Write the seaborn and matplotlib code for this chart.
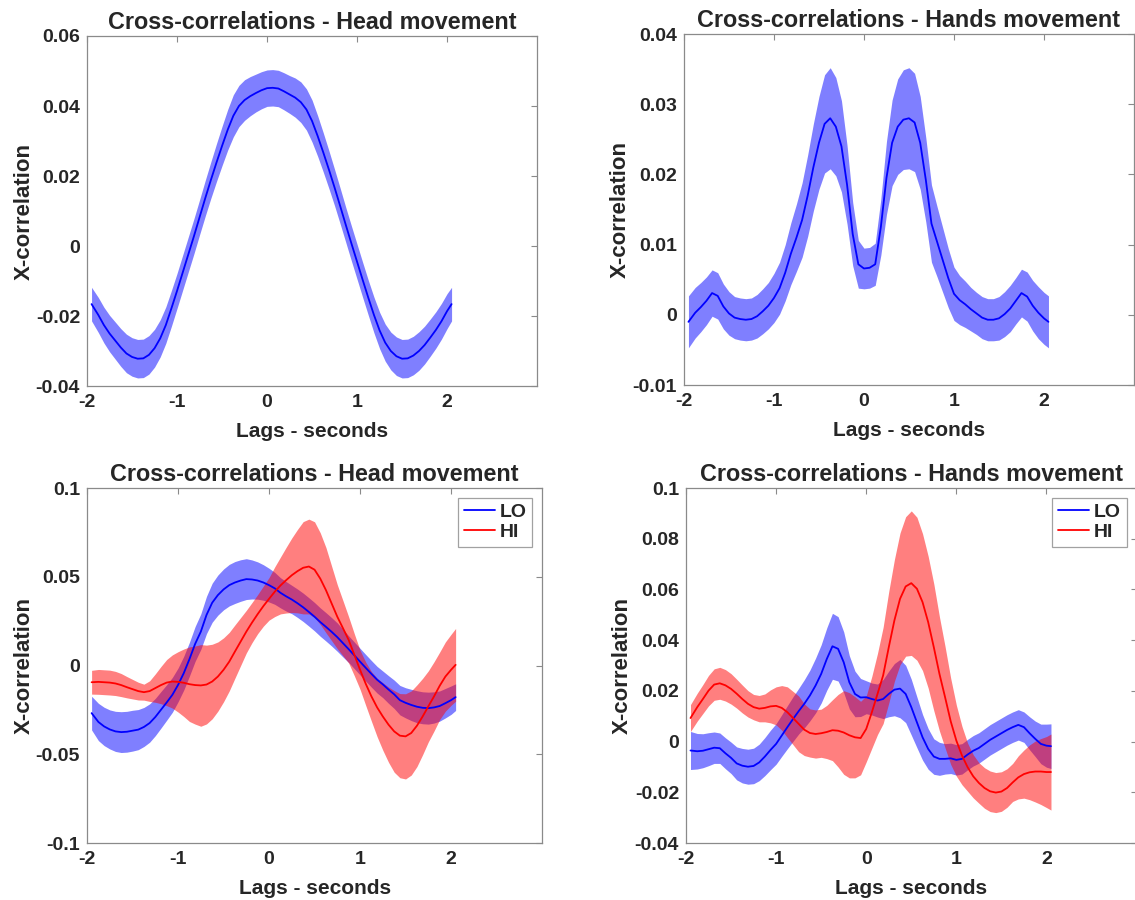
import numpy as np
import pandas as pd
import matplotlib
matplotlib.use("Agg")
import matplotlib.pyplot as plt
import seaborn as sns

# lags in seconds (data run from -1.95 to 2.05)
lags = [-1.95, -1.875, -1.8125, -1.75, -1.6875, -1.625, -1.5625, -1.5, -1.4375, -1.375,
        -1.3125, -1.25, -1.1875, -1.125, -1.0625, -1, -0.9375, -0.875, -0.8125, -0.75, -0.6875,
        -0.625, -0.5625, -0.5, -0.4375, -0.375, -0.3125, -0.25, -0.1875, -0.125, -0.0625, 0,
        0.0625, 0.125, 0.1875, 0.25, 0.3125, 0.375, 0.4375, 0.5, 0.5625, 0.625, 0.6875, 0.75,
        0.8125, 0.875, 0.9375, 1, 1.0625, 1.125, 1.1875, 1.25, 1.3125, 1.375, 1.4375, 1.5,
        1.5625, 1.625, 1.6875, 1.75, 1.8125, 1.875, 1.9375, 2, 2.05]

# top row - all subjects
head_mean = [-0.0166, -0.0197, -0.0226, -0.025, -0.027, -0.029, -0.0307, -0.0317, -0.0322, -0.0321,
             -0.0311, -0.0292, -0.0264, -0.0226, -0.0178, -0.0128, -0.0076, -0.0024, 0.0028, 0.0082, 0.0136,
             0.0188, 0.0238, 0.0286, 0.0332, 0.0372, 0.04, 0.0417, 0.0428, 0.0437, 0.0445, 0.0451,
             0.0452, 0.045, 0.0442, 0.0433, 0.0424, 0.0411, 0.039, 0.0357, 0.0314, 0.0267, 0.0218, 0.0167,
             0.0114, 0.006, 0.0007, -0.0045, -0.0097, -0.0148, -0.0197, -0.0241, -0.0276, -0.03, -0.0315, -0.0322,
             -0.0321, -0.0313, -0.03, -0.0283, -0.0262, -0.024, -0.0215, -0.0186, -0.0166]
head_sem = [0.0048, 0.005, 0.0051, 0.0052, 0.0053, 0.0054, 0.0055, 0.0055, 0.0055, 0.0055,
            0.0055, 0.0054, 0.0053, 0.0052, 0.0051, 0.005, 0.005, 0.005, 0.005, 0.005, 0.0051,
            0.0052, 0.0054, 0.0056, 0.0058, 0.006, 0.0059, 0.0058, 0.0056, 0.0054, 0.0053, 0.0052,
            0.0052, 0.0052, 0.0053, 0.0054, 0.0056, 0.0058, 0.0059, 0.006, 0.0058, 0.0056, 0.0054, 0.0052,
            0.0051, 0.005, 0.005, 0.005, 0.005, 0.005, 0.0051, 0.0052, 0.0053, 0.0054, 0.0055, 0.0055,
            0.0055, 0.0055, 0.0055, 0.0054, 0.0053, 0.0052, 0.0051, 0.005, 0.0048]

hands_mean = [-0.001, 0.0003, 0.0011, 0.002, 0.0031, 0.0027, 0.0012, 0.0002, -0.0004, -0.0006,
              -0.0007, -0.0006, -0.0002, 0.0005, 0.0013, 0.0024, 0.0038, 0.006, 0.0087, 0.011, 0.0135,
              0.017, 0.021, 0.0245, 0.0272, 0.028, 0.0268, 0.024, 0.0185, 0.0115, 0.0072, 0.0066,
              0.0067, 0.0072, 0.0125, 0.0195, 0.0245, 0.0268, 0.0278, 0.028, 0.0274, 0.0245, 0.0192, 0.013,
              0.0104, 0.0078, 0.0052, 0.003, 0.0021, 0.0015, 0.0008, 0.0002, -0.0004, -0.0007, -0.0007,
              -0.0005, 0.0001, 0.0009, 0.002, 0.0031, 0.0026, 0.0013, 0.0003, -0.0005, -0.001]
hands_sem = [0.0037, 0.0036, 0.0035, 0.0034, 0.0033, 0.0033, 0.0032, 0.0031, 0.003, 0.003,
             0.003, 0.003, 0.0031, 0.0032, 0.0033, 0.0035, 0.0037, 0.004, 0.0044, 0.0048, 0.0053,
             0.0058, 0.0062, 0.0066, 0.007, 0.0072, 0.007, 0.0065, 0.0056, 0.0045, 0.0034, 0.0029,
             0.0029, 0.003, 0.004, 0.0052, 0.0061, 0.0068, 0.0071, 0.0072, 0.007, 0.0066, 0.006, 0.0055,
             0.005, 0.0046, 0.0042, 0.0038, 0.0035, 0.0033, 0.0031, 0.003, 0.003, 0.003, 0.003,
             0.0031, 0.0032, 0.0033, 0.0033, 0.0034, 0.0035, 0.0036, 0.0037, 0.0037, 0.0037]

# bottom row - LO / HI groups
head_lo = [-0.0268, -0.0318, -0.0343, -0.036, -0.0371, -0.0375, -0.0373, -0.0367, -0.0361, -0.0346,
           -0.0324, -0.029, -0.0249, -0.0208, -0.0165, -0.0109, -0.0043, 0.0036, 0.0122, 0.0191, 0.0285,
           0.0354, 0.0397, 0.0429, 0.0453, 0.0468, 0.0479, 0.0487, 0.0485, 0.0479, 0.0468, 0.0453,
           0.0435, 0.041, 0.039, 0.0372, 0.0351, 0.0328, 0.0302, 0.0275, 0.0245, 0.0218, 0.019, 0.016,
           0.0126, 0.0092, 0.0057, 0.0022, -0.0013, -0.0047, -0.008, -0.0106, -0.0135, -0.0162, -0.0195,
           -0.021, -0.0222, -0.0232, -0.0238, -0.024, -0.0236, -0.0228, -0.0212, -0.0195, -0.0178]
head_lo_sem = [0.0095, 0.0105, 0.0108, 0.011, 0.0113, 0.0115, 0.0115, 0.0115, 0.0113, 0.011,
               0.0108, 0.0105, 0.0103, 0.01, 0.0098, 0.0095, 0.0095, 0.0095, 0.0098, 0.01, 0.0105,
               0.011, 0.0113, 0.0115, 0.0117, 0.0118, 0.0117, 0.0115, 0.011, 0.0105, 0.01, 0.0095,
               0.009, 0.0085, 0.0083, 0.008, 0.008, 0.008, 0.008, 0.008, 0.008, 0.008, 0.008, 0.008,
               0.0078, 0.0075, 0.0075, 0.0075, 0.0075, 0.0075, 0.0075, 0.0075, 0.0078, 0.008, 0.0083,
               0.0085, 0.0088, 0.009, 0.009, 0.009, 0.0088, 0.0085, 0.0083, 0.008, 0.0075]
head_hi = [-0.0094, -0.0092, -0.0094, -0.0096, -0.0101, -0.011, -0.0122, -0.0133, -0.0144, -0.015,
           -0.0144, -0.0127, -0.011, -0.0096, -0.009, -0.0092, -0.0097, -0.0105, -0.011, -0.0112, -0.0107,
           -0.009, -0.0062, -0.0024, 0.0022, 0.0079, 0.0135, 0.0191, 0.0242, 0.029, 0.0335, 0.0376,
           0.0416, 0.0451, 0.0481, 0.0509, 0.0532, 0.0551, 0.0558, 0.054, 0.049, 0.0425, 0.035, 0.0275,
           0.021, 0.0144, 0.006, -0.0024, -0.0103, -0.0174, -0.0236, -0.0287, -0.0333, -0.0371, -0.0395,
           -0.0399, -0.038, -0.0339, -0.0287, -0.023, -0.0174, -0.0114, -0.0062, -0.0024, 0.0004]
head_hi_sem = [0.0067, 0.007, 0.007, 0.007, 0.0068, 0.0065, 0.006, 0.0055, 0.005, 0.0045,
               0.0058, 0.008, 0.0105, 0.013, 0.015, 0.017, 0.019, 0.021, 0.022, 0.023, 0.0222,
               0.021, 0.0195, 0.018, 0.0165, 0.015, 0.0135, 0.012, 0.0113, 0.011, 0.0113, 0.012,
               0.014, 0.016, 0.0185, 0.021, 0.0235, 0.026, 0.0267, 0.027, 0.0258, 0.024, 0.021, 0.018,
               0.0155, 0.013, 0.0118, 0.011, 0.0122, 0.014, 0.0165, 0.019, 0.0212, 0.023, 0.0237,
               0.024, 0.0237, 0.023, 0.0215, 0.02, 0.0195, 0.019, 0.0195, 0.02, 0.0205]

hands_lo = [-0.0035, -0.0038, -0.0036, -0.003, -0.0024, -0.0026, -0.0046, -0.0064, -0.0086, -0.0095,
            -0.0099, -0.0096, -0.0082, -0.0059, -0.0033, -0.0009, 0.0024, 0.0057, 0.0089, 0.012, 0.0149,
            0.0182, 0.0221, 0.0267, 0.0326, 0.0376, 0.0366, 0.0313, 0.0234, 0.0188, 0.0174, 0.0175,
            0.0168, 0.0162, 0.0168, 0.0188, 0.0205, 0.0209, 0.0188, 0.0136, 0.0076, 0.0017, -0.0029, -0.0059,
            -0.0068, -0.0068, -0.0066, -0.0072, -0.0068, -0.0051, -0.0036, -0.0025, -0.0009, 0.0007, 0.002,
            0.0033, 0.0046, 0.0057, 0.0066, 0.0057, 0.0033, 0.0011, -0.0009, -0.0016, -0.0018]
hands_lo_sem = [0.0075, 0.007, 0.0067, 0.0065, 0.0062, 0.006, 0.0061, 0.0062, 0.0065, 0.0068,
                0.0069, 0.007, 0.0072, 0.0075, 0.0078, 0.008, 0.0082, 0.0085, 0.0088, 0.009, 0.0095,
                0.01, 0.0108, 0.0115, 0.0123, 0.013, 0.0127, 0.012, 0.0105, 0.009, 0.0075, 0.0065,
                0.0063, 0.0065, 0.0077, 0.009, 0.0103, 0.0115, 0.0113, 0.011, 0.01, 0.009, 0.008, 0.007,
                0.0065, 0.006, 0.006, 0.006, 0.006, 0.006, 0.006, 0.006, 0.006, 0.006, 0.006,
                0.006, 0.006, 0.006, 0.006, 0.006, 0.0065, 0.007, 0.0078, 0.0085, 0.0088]
hands_hi = [0.0093, 0.0136, 0.0168, 0.0201, 0.0225, 0.023, 0.0222, 0.0208, 0.0189, 0.0168,
            0.0149, 0.0136, 0.013, 0.0133, 0.0139, 0.0141, 0.0133, 0.0116, 0.0093, 0.007, 0.0047,
            0.0034, 0.003, 0.0033, 0.0038, 0.0045, 0.0043, 0.0036, 0.0025, 0.0017, 0.0014, 0.005,
            0.0116, 0.0188, 0.0261, 0.0372, 0.0478, 0.0563, 0.0612, 0.0625, 0.0603, 0.055, 0.0471, 0.0372,
            0.0267, 0.0175, 0.008, 0.0004, -0.0055, -0.0101, -0.0137, -0.0163, -0.0183, -0.0196, -0.0201,
            -0.0197, -0.0183, -0.0161, -0.0141, -0.0128, -0.0121, -0.0118, -0.0118, -0.012, -0.012]
hands_hi_sem = [0.0053, 0.0055, 0.0057, 0.006, 0.0062, 0.0063, 0.0062, 0.006, 0.0057, 0.0055,
                0.0052, 0.005, 0.0052, 0.0055, 0.0065, 0.0075, 0.0088, 0.01, 0.0105, 0.011, 0.0102,
                0.0095, 0.0095, 0.0095, 0.0105, 0.012, 0.0143, 0.0165, 0.0168, 0.016, 0.0145, 0.013,
                0.0142, 0.016, 0.019, 0.022, 0.024, 0.026, 0.0275, 0.0285, 0.0282, 0.027, 0.026, 0.025,
                0.0225, 0.02, 0.017, 0.014, 0.0115, 0.0095, 0.0085, 0.008, 0.008, 0.008, 0.0079,
                0.0078, 0.0076, 0.0075, 0.0085, 0.0095, 0.0108, 0.012, 0.013, 0.014, 0.015]

sns.set_theme(style="white")
plt.rcParams['font.family'] = ['Liberation Sans', 'DejaVu Sans']
plt.rcParams['font.weight'] = 'bold'

fig = plt.figure(figsize=(11.35, 9), dpi=100)


def draw_group(ax, mean, sem, line_col, label=None):
    m = np.array(mean)
    s = np.array(sem)
    ax.fill_between(lags, m - s, m + s, color=line_col, alpha=0.5, lw=0)
    df = pd.DataFrame({"lag": lags, "xcorr": m})
    sns.lineplot(data=df, x="lag", y="xcorr", color=line_col, lw=1.3, ax=ax, label=label)


def style_axes(ax, title, yticks, ylabels):
    ax.set_xlim(-2, 3)
    ax.set_xticks([-2, -1, 0, 1, 2])
    ax.set_xticklabels(["-2", "-1", "0", "1", "2"])
    ax.set_ylim(yticks[0], yticks[-1])
    ax.set_yticks(yticks)
    ax.set_yticklabels(ylabels)
    ax.tick_params(direction="in", top=True, right=True, length=4, width=0.8,
                   color="#8a8a8a", labelsize=14)
    ax.tick_params(axis="x", pad=6)
    ax.tick_params(axis="y", pad=5)
    for sp in ax.spines.values():
        sp.set_color("#8a8a8a")
        sp.set_linewidth(0.9)
    ax.set_title(title, fontsize=16.8, fontweight="bold", pad=5)
    ax.set_xlabel("Lags - seconds", fontsize=15, fontweight="bold", labelpad=8)
    ax.set_ylabel("X-correlation", fontsize=16, fontweight="bold", labelpad=1)


# top-left
ax1 = fig.add_axes([0.0767, 0.5711, 0.3965, 0.3889])
draw_group(ax1, head_mean, head_sem, "blue")
style_axes(ax1, "Cross-correlations - Head movement",
           [-0.04, -0.02, 0, 0.02, 0.04, 0.06], ["-0.04", "-0.02", "0", "0.02", "0.04", "0.06"])

# top-right
ax2 = fig.add_axes([0.6026, 0.5722, 0.3965, 0.39])
draw_group(ax2, hands_mean, hands_sem, "blue")
style_axes(ax2, "Cross-correlations - Hands movement",
           [-0.01, 0, 0.01, 0.02, 0.03, 0.04], ["-0.01", "0", "0.01", "0.02", "0.03", "0.04"])

# bottom-left
ax3 = fig.add_axes([0.0767, 0.0633, 0.4009, 0.3944])
draw_group(ax3, head_lo, head_lo_sem, "blue", "LO")
draw_group(ax3, head_hi, head_hi_sem, "red", "HI")
style_axes(ax3, "Cross-correlations - Head movement",
           [-0.1, -0.05, 0, 0.05, 0.1], ["-0.1", "-0.05", "0", "0.05", "0.1"])

# bottom-right
ax4 = fig.add_axes([0.6044, 0.0633, 0.397, 0.3944])
draw_group(ax4, hands_lo, hands_lo_sem, "blue", "LO")
draw_group(ax4, hands_hi, hands_hi_sem, "red", "HI")
style_axes(ax4, "Cross-correlations - Hands movement",
           [-0.04, -0.02, 0, 0.02, 0.04, 0.06, 0.08, 0.1],
           ["-0.04", "-0.02", "0", "0.02", "0.04", "0.06", "0.08", "0.1"])

for ax in (ax3, ax4):
    leg = ax.legend(loc="upper right", frameon=True, fancybox=False, edgecolor="#8a8a8a",
                    prop={"weight": "bold", "size": 14}, handlelength=1.6, handletextpad=0.25,
                    labelspacing=0.1, borderpad=0.3, borderaxespad=0.5)
    leg.get_frame().set_linewidth(0.9)

fig.savefig("out.png", dpi=100, facecolor="white")
